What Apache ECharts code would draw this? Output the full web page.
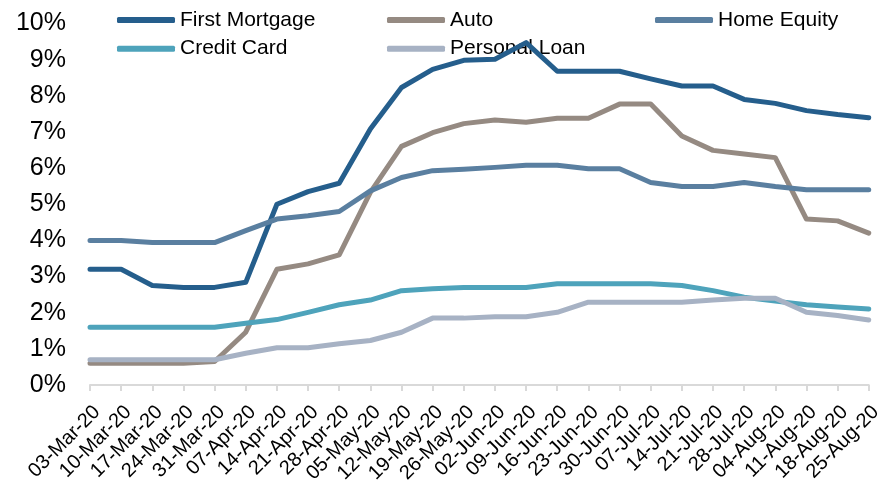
<!DOCTYPE html>
<html>
<head>
<meta charset="utf-8">
<script src="https://cdn.jsdelivr.net/npm/echarts@6/dist/echarts.min.js"></script>
<style>
    html, body { margin: 0; padding: 0; background: #fff; }
    #chart { width: 885px; height: 486px; }
</style>
</head>
<body>
<div id="chart"></div>
<script>
// 周度日期
const dates = ['03-Mar-20', '10-Mar-20', '17-Mar-20', '24-Mar-20', '31-Mar-20', '07-Apr-20', '14-Apr-20',
    '21-Apr-20', '28-Apr-20', '05-May-20', '12-May-20', '19-May-20', '26-May-20', '02-Jun-20', '09-Jun-20',
    '16-Jun-20', '23-Jun-20', '30-Jun-20', '07-Jul-20', '14-Jul-20', '21-Jul-20', '28-Jul-20', '04-Aug-20',
    '11-Aug-20', '18-Aug-20', '25-Aug-20']

// 各类贷款的比例 (%)
const firstMortgage = [3.2, 3.2, 2.75, 2.7, 2.7, 2.84, 5.0, 5.35, 5.58, 7.08, 8.23, 8.73, 8.98, 9.01, 9.47,
    8.68, 8.68, 8.68, 8.47, 8.27, 8.27, 7.9, 7.79, 7.59, 7.48, 7.39]
const auto = [0.6, 0.6, 0.6, 0.6, 0.65, 1.46, 3.2, 3.35, 3.6, 5.33, 6.6, 6.98, 7.23, 7.33, 7.27,
    7.38, 7.38, 7.77, 7.77, 6.89, 6.49, 6.39, 6.29, 4.59, 4.54, 4.2]
const homeEquity = [4.0, 4.0, 3.94, 3.94, 3.94, 4.27, 4.59, 4.68, 4.8, 5.37, 5.74, 5.93, 5.97, 6.02, 6.08,
    6.08, 5.98, 5.98, 5.6, 5.49, 5.49, 5.6, 5.49, 5.4, 5.4, 5.4]
const creditCard = [1.6, 1.6, 1.6, 1.6, 1.6, 1.71, 1.81, 2.01, 2.22, 2.35, 2.61, 2.66, 2.7, 2.7, 2.7,
    2.8, 2.8, 2.8, 2.8, 2.75, 2.61, 2.43, 2.32, 2.22, 2.16, 2.1]
const personalLoan = [0.7, 0.7, 0.7, 0.7, 0.7, 0.88, 1.03, 1.03, 1.14, 1.23, 1.46, 1.85, 1.85, 1.89, 1.89,
    2.01, 2.29, 2.29, 2.29, 2.29, 2.35, 2.4, 2.4, 2.01, 1.92, 1.8]

const seriesNames = ['First Mortgage', 'Auto', 'Home Equity', 'Credit Card', 'Personal Loan']
const seriesValues = [firstMortgage, auto, homeEquity, creditCard, personalLoan]
const colors = ['#255e8c', '#958a82', '#5a7fa0', '#4ea3bb', '#a7b2c4']

const FONT = 'Liberation Sans, Arial, sans-serif'
const axisGray = '#d9d9d9'

// 图例样式 (三列)
function makeLegend(names, left) {
    return {
        data: names,
        orient: 'vertical',
        left: left,
        top: 9,
        padding: 0,
        z: 1,
        icon: 'roundRect',
        itemWidth: 58,
        itemHeight: 6,
        itemGap: 6.7,
        textStyle: { fontFamily: FONT, fontSize: 21, color: '#000', lineHeight: 22 }
    }
}

const cs = echarts.init(document.getElementById('chart'), null, { renderer: 'canvas' })
const option = {
    backgroundColor: '#fff',
    animation: false,
    color: colors,
    legend: [
        makeLegend(['First Mortgage', 'Credit Card'], 117),
        makeLegend(['Auto', 'Personal Loan'], 387),
        makeLegend(['Home Equity'], 655)
    ],
    grid: { left: 90, right: 15, top: 23.5, bottom: 101 },
    xAxis: {
        type: 'category',
        data: dates,
        boundaryGap: false,
        axisLine: { lineStyle: { color: axisGray, width: 2 } },
        axisTick: { show: true, length: 6, lineStyle: { color: axisGray, width: 2 } },
        axisLabel: {
            interval: 0,
            rotate: 45,
            margin: 17,
            verticalAlign: 'top',
            fontFamily: FONT,
            fontSize: 20,
            color: '#000'
        }
    },
    yAxis: {
        type: 'value',
        min: 0,
        max: 10,
        interval: 1,
        axisLine: { show: false },
        axisTick: { show: false },
        splitLine: { show: false },
        axisLabel: {
            formatter: '{value}%',
            margin: 24,
            fontFamily: FONT,
            fontSize: 25,
            color: '#000'
        }
    },
    series: seriesNames.map((name, i) => ({
        type: 'line',
        name: name,
        data: seriesValues[i],
        z: 3,
        showSymbol: false,
        symbol: 'none',
        lineStyle: { width: 5, color: colors[i], cap: 'round', join: 'round' },
        itemStyle: { color: colors[i] }
    }))
}
cs.setOption(option)
</script>
</body>
</html>
